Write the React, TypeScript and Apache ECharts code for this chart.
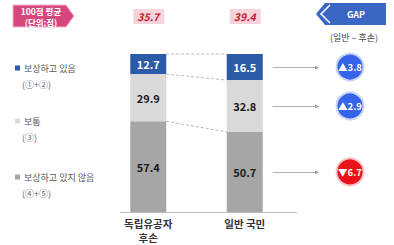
import React, { useEffect, useRef } from "react";
import * as echarts from "echarts";

const categories = ["독립유공자\n후손", "일반 국민"];
const positive = [12.7, 16.5];
const neutral = [29.9, 32.8];
const negative = [57.4, 50.7];
const averages = [35.7, 39.4];
const gaps = [3.8, 2.9, -6.7];
const legendNames = ["보상하고 있음", "보통", "보상하고 있지 않음"];
const legendNotes = ["(①+②)", "(③)", "(④+⑤)"];

const FONT = "'Noto Sans CJK KR', 'Noto Sans', sans-serif";
const C_POS = "#2b5aa8";
const C_NEU = "#d9d9d9";
const C_NEG = "#a6a6a6";
const BAR_W = 36;

export default function App() {
  const ref = useRef<HTMLDivElement>(null);
  useEffect(() => {
    if (!ref.current) return;
    const chart = echarts.init(ref.current, null, { renderer: "svg" });

    const cum = (i: number) => [negative[i], negative[i] + neutral[i], negative[i] + neutral[i] + positive[i]];
    const c0 = cum(0);
    const c1 = cum(1);
    const connectorData = [
      [0, c0[0], c1[0]],
      [0, c0[1], c1[1]],
      [0, c0[2], c1[2]],
    ];
    const mids = [c1[1] + positive[1] / 2, c1[0] + neutral[1] / 2, negative[1] / 2];
    const gapData = gaps.map((g, k) => [1, mids[k], g]);
    const avgData = averages.map((a, i) => [i, 100, a]);

    const legendColors = [C_POS, C_NEU, C_NEG];
    const legendY = [68, 121, 177];
    const legendGraphics: any[] = [];
    legendNames.forEach((n, k) => {
      legendGraphics.push({
        type: "rect",
        shape: { x: 15, y: legendY[k] - 2.5, width: 5, height: 5 },
        style: { fill: legendColors[k] },
      });
      legendGraphics.push({
        type: "text",
        x: 24,
        y: legendY[k],
        style: { text: n, fill: "#555", font: `9px ${FONT}`, textVerticalAlign: "middle" },
      });
      legendGraphics.push({
        type: "text",
        x: 22,
        y: legendY[k] + 16,
        style: { text: legendNotes[k], fill: "#666", font: `9px ${FONT}`, textVerticalAlign: "middle" },
      });
    });

    const option: any = {
      animation: false,
      grid: { left: 100, right: 101, top: 54, bottom: 33 },
      xAxis: {
        type: "category",
        data: categories,
        axisLine: { show: false },
        axisTick: { show: false },
        axisLabel: {
          color: "#333",
          fontWeight: "bold",
          fontSize: 10.5,
          lineHeight: 14,
          margin: 4,
          fontFamily: FONT,
        },
      },
      yAxis: { type: "value", min: 0, max: 100, show: false, splitLine: { show: false } },
      graphic: [
        {
          type: "line",
          shape: { x1: 120, y1: 212.5, x2: 297, y2: 212.5 },
          style: { stroke: "#bfbfbf", lineWidth: 1 },
        },
        {
          type: "polygon",
          shape: { points: [[13, 5], [66, 5], [74, 16], [66, 27], [13, 27]] },
          style: { fill: "#d6477d", stroke: "#f2b6cc", lineWidth: 1 },
        },
        {
          type: "text",
          x: 41,
          y: 10.5,
          style: { text: "100점 평균", fill: "#fff", font: `bold 8.5px ${FONT}`, textAlign: "center", textVerticalAlign: "middle" },
        },
        {
          type: "text",
          x: 41,
          y: 21.5,
          style: { text: "(단위:점)", fill: "#fff", font: `bold 8.5px ${FONT}`, textAlign: "center", textVerticalAlign: "middle" },
        },
        {
          type: "polygon",
          shape: { points: [[325, 3], [386, 3], [386, 25], [325, 25], [316, 14]] },
          style: { fill: "#3a67c4" },
        },
        {
          type: "polyline",
          shape: { points: [[330, 5], [321, 14], [330, 23]] },
          style: { stroke: "#fff", lineWidth: 1.5, fill: "none" },
        },
        {
          type: "text",
          x: 356,
          y: 14.5,
          style: { text: "GAP", fill: "#fff", font: `bold 9px ${FONT}`, textAlign: "center", textVerticalAlign: "middle" },
        },
        {
          type: "text",
          x: 354,
          y: 37,
          style: { text: "(일반 – 후손)", fill: "#444", font: `9px ${FONT}`, textAlign: "center", textVerticalAlign: "middle" },
        },
        ...legendGraphics,
      ],
      series: [
        {
          type: "bar",
          stack: "s",
          data: negative,
          barWidth: BAR_W,
          itemStyle: { color: C_NEG },
          label: { show: true, position: "inside", color: "#1a1a1a", fontWeight: "bold", fontSize: 11, fontFamily: FONT },
        },
        {
          type: "bar",
          stack: "s",
          data: neutral,
          barWidth: BAR_W,
          itemStyle: { color: C_NEU },
          label: { show: true, position: "inside", color: "#1a1a1a", fontWeight: "bold", fontSize: 11, fontFamily: FONT },
        },
        {
          type: "bar",
          stack: "s",
          data: positive,
          barWidth: BAR_W,
          itemStyle: { color: C_POS },
          label: { show: true, position: "inside", color: "#fff", fontWeight: "bold", fontSize: 11, fontFamily: FONT },
        },
        {
          type: "custom",
          data: connectorData,
          encode: { x: 0, y: 1 },
          silent: true,
          z: 1,
          renderItem: (params: any, api: any) => {
            const p1 = api.coord([0, api.value(1)]);
            const p2 = api.coord([1, api.value(2)]);
            return {
              type: "line",
              shape: { x1: p1[0] + BAR_W / 2, y1: p1[1], x2: p2[0] - BAR_W / 2, y2: p2[1] },
              style: { stroke: "#b8b8b8", lineWidth: 1, lineDash: [3, 2] },
            };
          },
        },
        {
          type: "custom",
          data: gapData,
          encode: { x: 0, y: 1 },
          silent: true,
          renderItem: (params: any, api: any) => {
            const p = api.coord([1, api.value(1)]);
            const g = api.value(2);
            const y = Math.round(p[1]) + 0.5;
            const x1 = p[0] + BAR_W / 2 + 10;
            const x2 = 316;
            const up = g >= 0;
            return {
              type: "group",
              children: [
                { type: "line", shape: { x1, y1: y, x2, y2: y }, style: { stroke: "#b0b0b0", lineWidth: 1 } },
                { type: "polygon", shape: { points: [[x2 + 3, y], [x2 - 1, y - 2], [x2 - 1, y + 2]] }, style: { fill: "#a0a0a0" } },
                {
                  type: "circle",
                  shape: { cx: 350, cy: p[1], r: 13.5 },
                  style: { fill: up ? "#3563e9" : "#e8121b", stroke: up ? "#c8d4f4" : "#f4c4c4", lineWidth: 2 },
                },
                {
                  type: "text",
                  x: 350,
                  y: p[1],
                  style: {
                    text: (up ? "▲" : "▼") + Math.abs(g).toFixed(1),
                    fill: "#fff",
                    font: `bold 9.5px ${FONT}`,
                    textAlign: "center",
                    textVerticalAlign: "middle",
                  },
                },
              ],
            };
          },
        },
        {
          type: "custom",
          data: avgData,
          encode: { x: 0, y: 1 },
          silent: true,
          renderItem: (params: any, api: any) => {
            const p = api.coord([api.value(0), api.value(1)]);
            return {
              type: "group",
              children: [
                { type: "rect", shape: { x: p[0] - 15, y: 9, width: 31, height: 15 }, style: { fill: "#f7d3dc" } },
                {
                  type: "text",
                  x: p[0],
                  y: 16.5,
                  style: {
                    text: api.value(2).toFixed(1),
                    fill: "#c8202e",
                    font: `italic bold 10.5px ${FONT}`,
                    textAlign: "center",
                    textVerticalAlign: "middle",
                  },
                },
              ],
            };
          },
        },
      ],
    };
    chart.setOption(option);
    return () => chart.dispose();
  }, []);
  return <div ref={ref} style={{ position: "fixed", left: 0, top: 0, width: 394, height: 245, background: "#fff" }} />;
}
